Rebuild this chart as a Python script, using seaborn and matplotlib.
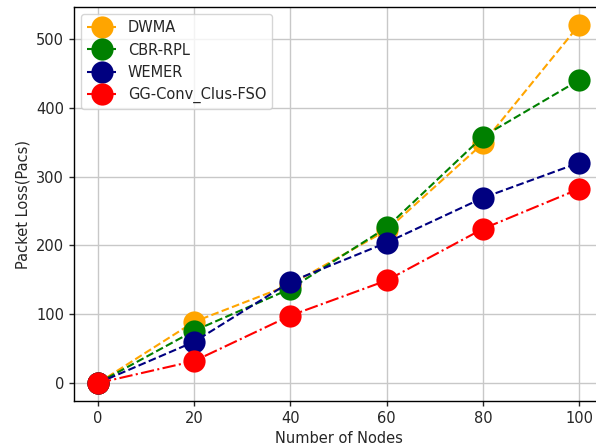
import pandas as pd
import matplotlib
matplotlib.use("Agg")
import matplotlib.pyplot as plt
import seaborn as sns

# data
nodes = [0, 20, 40, 60, 80, 100]
dwma = [0, 89, 143, 222, 348, 520]
cbr_rpl = [0, 76, 137, 226, 358, 440]
wemer = [0, 60, 147, 204, 269, 320]
gg_conv = [0, 32, 98, 149, 224, 282]

series = ["DWMA", "CBR-RPL", "WEMER", "GG-Conv_Clus-FSO"]
colors = ["orange", "green", "navy", "red"]
styles = ["--", "--", "--", "-."]

df = pd.DataFrame({"nodes": nodes, "DWMA": dwma, "CBR-RPL": cbr_rpl,
                   "WEMER": wemer, "GG-Conv_Clus-FSO": gg_conv})
long = df.melt(id_vars="nodes", var_name="method", value_name="loss")

sns.set_style("white")
fig = plt.figure(figsize=(5.96, 4.47), dpi=100)
ax = fig.add_axes([0.124, 0.103, 0.888, 0.881])

for name, c, ls in zip(series, colors, styles):
    sub = long[long["method"] == name]
    sns.lineplot(data=sub, x="nodes", y="loss", ax=ax, color=c, linestyle=ls,
                 marker="o", markersize=16, markeredgewidth=0, linewidth=1.5,
                 label=name)

ax.set_xlim(-5, 105)
ax.set_ylim(-26, 546)
ax.set_xticks(nodes)
ax.set_yticks([0, 100, 200, 300, 400, 500])
ax.grid(True, color="#c8c8c8", linewidth=1)
ax.set_xlabel("Number of Nodes", fontsize=10.5)
ax.set_ylabel("Packet Loss(Pacs)", fontsize=10.5)
for s in ax.spines.values():
    s.set_color("black")
    s.set_linewidth(1)
ax.tick_params(axis="both", which="both", length=3.5, width=1, direction="out",
               bottom=True, left=True, labelsize=10.5)
ax.legend(loc="upper left", fontsize=10.5)

fig.savefig("out.png", dpi=100)
